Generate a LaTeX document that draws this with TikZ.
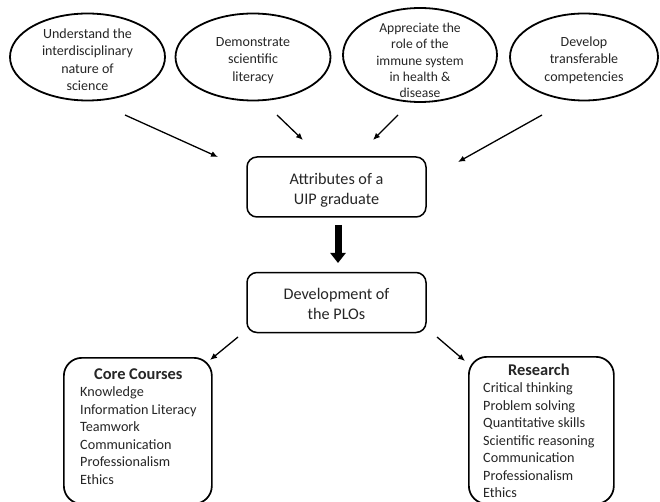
\documentclass[tikz,border=0pt]{standalone}
\usepackage{fontspec}
\setmainfont{Carlito}
\usetikzlibrary{arrows.meta,shapes.geometric,calc}
\newcommand{\boxtitle}[1]{\multicolumn{1}{c}{\fontsize{16.4}{17.5}\selectfont\textbf{#1}}}
\tikzset{
  ell/.style={ellipse, draw=black, line width=1.8pt, inner sep=0pt},
  etext/.style={align=center, text=black!85, inner sep=0pt, font=\fontsize{14}{17.5}\selectfont},
  midbox/.style={draw=black, line width=1.5pt, rounded corners=10pt, minimum width=179pt, minimum height=60pt},
  midtext/.style={align=center, text=black!85, inner sep=0pt, font=\fontsize{16.2}{20}\selectfont},
  bigbox/.style={draw=black, line width=1.7pt, rounded corners=18pt, anchor=north west},
  listtext/.style={anchor=north west, inner sep=0pt, text=black!85, font=\fontsize{14.2}{17.5}\selectfont},
  thin/.style={line width=1.3pt, -{Latex[length=7pt,width=6pt]}},
  thick/.style={line width=7pt, -{Triangle[length=10pt,width=15pt]}}
}
\begin{document}
\begin{tikzpicture}[x=1pt,y=-1pt]
\useasboundingbox (0,0) rectangle (660,502);
\clip (0,0) rectangle (660,502);
\fill[white] (0,0) rectangle (660,502);

% ellipses
\node[ell, minimum width=155pt, minimum height=87pt] (e1) at (87.5,57) {};
\node[etext] (t1) at (87.5,59.5) {Understand the\\interdisciplinary\\nature of\\science};
\node[ell, minimum width=155pt, minimum height=87pt] (e2) at (253,57) {};
\node[etext] (t2) at (253,60.5) {Demonstrate\\scientific\\literacy};
\node[ell, minimum width=154pt, minimum height=94pt] (e3) at (420,55) {};
\node[etext, font=\fontsize{13.6}{16.4}\selectfont] (t3) at (420,60.5) {Appreciate the\\role of the\\immune system\\in health \&\\disease};
\node[ell, minimum width=148pt, minimum height=87pt] (e4) at (584,57) {};
\node[etext] (t4) at (584,60) {Develop\\transferable\\competencies};

% middle boxes
\node[midbox] (attr) at (336.5,187) {};
\node[midtext] (attrtext) at (336.5,190) {Attributes of a\\UIP graduate};
\node[midbox] (plo) at (336.5,302.5) {};
\node[midtext] (plotext) at (336.5,304) {Development of\\the PLOs};

% bottom boxes
\node[bigbox, minimum width=148pt, minimum height=146pt] (core) at (63,357) {};
\node[listtext] (coretext) at (80,367) {\begin{tabular}{@{}l@{}}\boxtitle{Core Courses}\\Knowledge\\Information Literacy\\Teamwork\\Communication\\Professionalism\\Ethics\end{tabular}};
\node[bigbox, minimum width=145pt, minimum height=147pt] (res) at (468,356) {};
\node[listtext] (restext) at (483,363) {\begin{tabular}{@{}l@{}}\boxtitle{Research}\\Critical thinking\\Problem solving\\Quantitative skills\\Scientific reasoning\\Communication\\Professionalism\\Ethics\end{tabular}};

% connector end points
\coordinate (a1s) at (125,115); \coordinate (a1e) at (218,157);
\coordinate (a2s) at (277,115); \coordinate (a2e) at (303,140);
\coordinate (a3s) at (398,115); \coordinate (a3e) at (373,140);
\coordinate (a4s) at (542,115); \coordinate (a4e) at (458,162);
\coordinate (a5s) at (238,337); \coordinate (a5e) at (210,360);
\coordinate (a6s) at (437,337); \coordinate (a6e) at (465,361);
\coordinate (ts) at (338,225); \coordinate (te) at (338,263);

\draw[thin] (a1s) -- (a1e);
\draw[thin] (a2s) -- (a2e);
\draw[thin] (a3s) -- (a3e);
\draw[thin] (a4s) -- (a4e);
\draw[thin] (a5s) -- (a5e);
\draw[thin] (a6s) -- (a6e);
\draw[thick] (ts) -- (te);
\end{tikzpicture}
\end{document}
